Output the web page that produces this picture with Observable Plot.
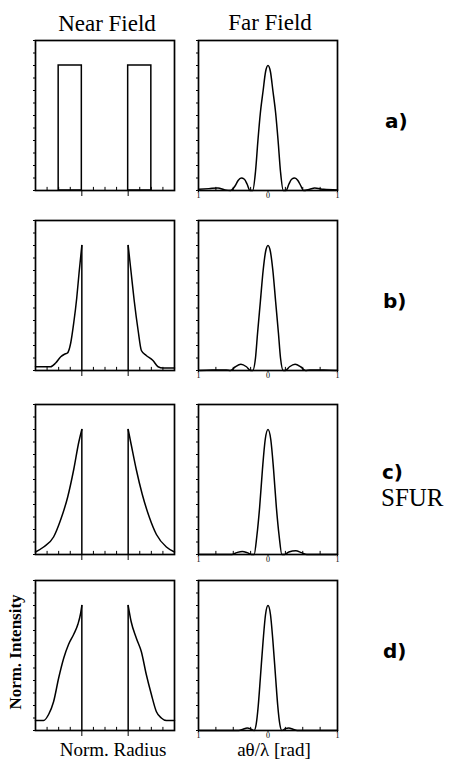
<!DOCTYPE html>
<html><head><meta charset="utf-8">
<script src="https://cdn.jsdelivr.net/npm/d3@7"></script>
<script src="https://cdn.jsdelivr.net/npm/@observablehq/plot@0.6"></script>
<style>
html,body{margin:0;padding:0;background:#fff;}
#wrap{position:relative;width:452px;height:759px;overflow:hidden;background:#fff;}
#wrap svg{position:absolute;}
.serif{font-family:"Liberation Serif","Times New Roman",serif;}
.sans{font-family:"DejaVu Sans",sans-serif;}
</style></head><body><div id="wrap"></div>
<script>
// ---------- data ----------
const rowLabels = ["a)", "b)", "c)", "d)"];
const columnTitles = ["Near Field", "Far Field"];
const yTicks = [0, 0.1, 0.2, 0.3, 0.4, 0.5, 0.6, 0.7, 0.8, 0.9, 1.0, 1.1, 1.2];
const nearTicks = [-1, 1];
const nearMinor = [-2.5, -2, -1.5, -0.5, 0, 0.5, 1.5, 2, 2.5];
const farTicks = [-1, 0, 1];
const farTickLabels = ["1", "0", "1"];
const farMinor = [-0.75, -0.5, -0.25, 0.25, 0.5, 0.75];

// a) near field: annular top-hat
const nearA_x1 = [-2, 1];
const nearA_x2 = [-1, 2];
const nearA_y = [1, 1];

const nearB_leftX = [-3, -2.35, -2.13, -1.91, -1.75, -1.62, -1.48, -1.35, -1.22, -1.12, -1];
const nearB_leftY = [0.03, 0.03, 0.06, 0.11, 0.13, 0.14, 0.22, 0.38, 0.58, 0.78, 1];
const nearB_rightX = [1, 1.13, 1.26, 1.43, 1.57, 1.78, 2.07, 2.29, 2.5, 3];
const nearB_rightY = [1, 0.78, 0.56, 0.32, 0.16, 0.12, 0.08, 0.03, 0.02, 0.02];

const nearC_leftX = [-3, -2.65, -2.22, -1.91, -1.61, -1.35, -1.13, -1];
const nearC_leftY = [0.02, 0.06, 0.14, 0.28, 0.46, 0.68, 0.9, 1];
const nearC_rightX = [1, 1.13, 1.35, 1.61, 1.91, 2.22, 2.65, 3];
const nearC_rightY = [1, 0.88, 0.68, 0.48, 0.3, 0.16, 0.06, 0.02];

const nearD_leftX = [-3, -2.65, -2.43, -2.22, -2.0, -1.78, -1.57, -1.35, -1.17, -1.06, -1];
const nearD_leftY = [0.08, 0.08, 0.13, 0.23, 0.42, 0.58, 0.69, 0.77, 0.85, 0.93, 1];
const nearD_rightX = [1, 1.13, 1.35, 1.57, 1.78, 2.0, 2.22, 2.43, 2.65, 3];
const nearD_rightY = [1, 0.87, 0.74, 0.63, 0.45, 0.29, 0.15, 0.1, 0.08, 0.08];

const farA_x = [-1, -0.85, -0.72, -0.62, -0.54, -0.47, -0.43, -0.385, -0.34, -0.3, -0.26, -0.22, -0.18, -0.145, -0.11, -0.07, -0.035, 0, 0.035, 0.07, 0.11, 0.145, 0.18, 0.22, 0.26, 0.3, 0.34, 0.385, 0.43, 0.47, 0.51, 0.6, 0.67, 0.8, 1];
const farA_y = [0.01, 0.015, 0.02, 0.005, 0, 0.04, 0.08, 0.1, 0.09, 0.05, 0, 0, 0.15, 0.4, 0.62, 0.8, 0.95, 1, 0.95, 0.8, 0.62, 0.4, 0.15, 0, 0, 0.05, 0.09, 0.1, 0.08, 0.04, 0, 0.01, 0.02, 0.01, 0.005];

const farB_x = [-1, -0.8, -0.6, -0.54, -0.47, -0.39, -0.31, -0.25, -0.22, -0.18, -0.15, -0.11, -0.07, -0.035, 0, 0.035, 0.07, 0.11, 0.15, 0.18, 0.22, 0.25, 0.31, 0.39, 0.47, 0.54, 0.6, 0.8, 1];
const farB_y = [0, 0.005, 0.005, 0, 0.03, 0.05, 0.03, 0, 0, 0.1, 0.3, 0.55, 0.8, 0.95, 1, 0.95, 0.8, 0.55, 0.3, 0.1, 0, 0, 0.03, 0.05, 0.03, 0, 0.005, 0.005, 0];

const farC_x = [-1, -0.7, -0.52, -0.45, -0.37, -0.3, -0.24, -0.2, -0.16, -0.12, -0.08, -0.04, 0, 0.04, 0.08, 0.12, 0.16, 0.2, 0.24, 0.3, 0.4, 0.48, 0.56, 0.75, 1];
const farC_y = [0, 0, 0, 0.015, 0.025, 0.015, 0, 0, 0.15, 0.38, 0.68, 0.92, 1, 0.92, 0.68, 0.38, 0.15, 0, 0, 0.02, 0.03, 0.015, 0, 0, 0];

const farD_x = [-1, -0.6, -0.42, -0.36, -0.3, -0.24, -0.2, -0.17, -0.14, -0.11, -0.07, -0.035, 0, 0.035, 0.07, 0.11, 0.14, 0.17, 0.2, 0.25, 0.3, 0.36, 0.42, 0.6, 1];
const farD_y = [0, 0, 0, 0.01, 0.02, 0.01, 0, 0.05, 0.2, 0.42, 0.72, 0.93, 1, 0.93, 0.72, 0.42, 0.2, 0.05, 0, 0.015, 0.02, 0.01, 0, 0, 0];

// ---------- layout ----------
const FW = 139, FH = 150, ML = 12, MR = 12, MT = 3, MB = 13;
const colLeft = [35, 198];
const rowTop = [40, 220, 404, 580];
const wrap = document.getElementById("wrap");
const zip = (xs, ys) => xs.map((x, i) => ({x, y: ys[i]}));
const lineStyle = {x: "x", y: "y", curve: "monotone-x", stroke: "black", strokeWidth: 1.5};

function panel(col, row, marks) {
  const near = col === 0;
  const xOpts = near
    ? {domain: [-3, 3], ticks: nearTicks, tickFormat: () => "", tickSize: 6, label: null}
    : {domain: [-1, 1], ticks: farTicks, tickFormat: d => farTickLabels[farTicks.indexOf(d)], tickSize: 2, tickPadding: 0, label: null};
  const chart = Plot.plot({
    width: FW + ML + MR, height: FH + MT + MB,
    marginLeft: ML, marginRight: MR, marginTop: MT, marginBottom: MB,
    style: {background: "transparent", color: "black", fontFamily: "'Liberation Serif', serif", fontSize: "8px", overflow: "visible"},
    x: xOpts,
    y: {domain: [0, 1.2], ticks: yTicks, tickSize: 2, tickFormat: () => "", label: null},
    marks: [
      Plot.ruleX(near ? nearMinor : farMinor, {x: d => d, y1: 0, y2: 0.025, stroke: "black", strokeWidth: 1}),
      ...marks,
      Plot.frame({stroke: "black", strokeWidth: 1.7})
    ]
  });
  chart.style.left = (colLeft[col] - ML) + "px";
  chart.style.top = (rowTop[row] - MT) + "px";
  wrap.appendChild(chart);
}

function nearProfile(lx, ly, rx, ry) {
  const edges = [{x: lx[lx.length - 1], y: ly[ly.length - 1]}, {x: rx[0], y: ry[0]}];
  return [
    Plot.line(zip(lx, ly), lineStyle),
    Plot.line(zip(rx, ry), lineStyle),
    Plot.ruleX(edges, {x: "x", y1: 0, y2: "y", stroke: "black", strokeWidth: 1.5})
  ];
}

// a)
panel(0, 0, [Plot.rect(nearA_x1.map((x1, i) => ({x1, x2: nearA_x2[i], y: nearA_y[i]})), {x1: "x1", x2: "x2", y1: 0, y2: "y", fill: "none", stroke: "black", strokeWidth: 1.5})]);
panel(1, 0, [Plot.line(zip(farA_x, farA_y), lineStyle)]);
// b)
panel(0, 1, nearProfile(nearB_leftX, nearB_leftY, nearB_rightX, nearB_rightY));
panel(1, 1, [Plot.line(zip(farB_x, farB_y), lineStyle)]);
// c)
panel(0, 2, nearProfile(nearC_leftX, nearC_leftY, nearC_rightX, nearC_rightY));
panel(1, 2, [Plot.line(zip(farC_x, farC_y), lineStyle)]);
// d)
panel(0, 3, nearProfile(nearD_leftX, nearD_leftY, nearD_rightX, nearD_rightY));
panel(1, 3, [Plot.line(zip(farD_x, farD_y), lineStyle)]);

// ---------- text ----------
const svg = d3.select(wrap).append("svg").attr("width", 452).attr("height", 759).style("left", 0).style("top", 0);
function txt(cls, x, y, size, s, anchor) {
  return svg.append("text").attr("class", cls).attr("x", x).attr("y", y)
    .attr("text-anchor", anchor || "start").style("font-size", size + "px").text(s);
}
txt("serif", 107, 31, 23, columnTitles[0], "middle");
txt("serif", 270, 30, 23, columnTitles[1], "middle");
const labelPos = [[385, 128], [383, 308], [382, 479], [383, 658]];
rowLabels.forEach((t, i) => txt("sans", labelPos[i][0], labelPos[i][1], 20, t).style("font-weight", "bold"));
txt("serif", 381, 506, 25, "SFUR");
svg.append("text").attr("class", "serif").attr("transform", "translate(21,652) rotate(-90)").attr("text-anchor", "middle")
  .style("font-weight", "bold").style("font-size", "17px").text("Norm. Intensity");
txt("serif", 113, 756, 19, "Norm. Radius", "middle");
txt("serif", 274, 756, 19, "aθ/λ [rad]", "middle");
</script></body></html>
